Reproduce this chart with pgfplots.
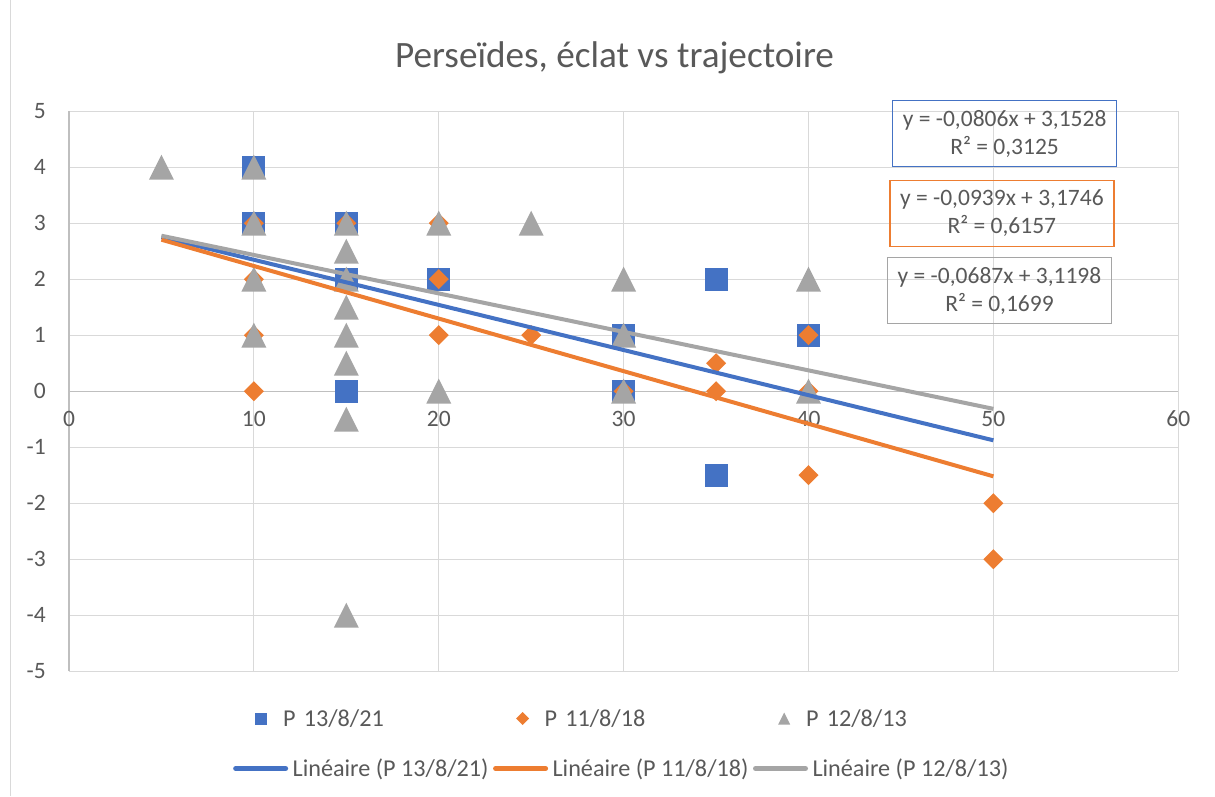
\documentclass[border=0pt]{standalone}
\usepackage{pgfplots}
\pgfplotsset{compat=1.18}
\usepackage{fontspec}
\setmainfont{Carlito}
\definecolor{xblue}{HTML}{4472C4}
\definecolor{xorange}{HTML}{ED7D31}
\definecolor{xgray}{HTML}{A5A5A5}
\definecolor{txt}{HTML}{595959}
\definecolor{gridc}{HTML}{D9D9D9}
\definecolor{axl}{HTML}{BFBFBF}
\pgfdeclareplotmark{xltri}{%
  \pgfpathmoveto{\pgfqpoint{0pt}{\pgfplotmarksize}}%
  \pgfpathlineto{\pgfqpoint{\pgfplotmarksize}{-\pgfplotmarksize}}%
  \pgfpathlineto{\pgfqpoint{-\pgfplotmarksize}{-\pgfplotmarksize}}%
  \pgfpathclose\pgfusepathqfill}
\pgfdeclareplotmark{xldia}{%
  \pgfpathmoveto{\pgfqpoint{0pt}{\pgfplotmarksize}}%
  \pgfpathlineto{\pgfqpoint{\pgfplotmarksize}{0pt}}%
  \pgfpathlineto{\pgfqpoint{0pt}{-\pgfplotmarksize}}%
  \pgfpathlineto{\pgfqpoint{-\pgfplotmarksize}{0pt}}%
  \pgfpathclose\pgfusepathqfill}
\newcommand{\fnt}{\fontsize{23.5}{28}\selectfont}
\newcommand{\lfnt}{\fontsize{24.2}{29}\selectfont}
\pgfplotsset{
  base/.style={
    at={(69pt,125.3pt)}, anchor=south west,
    width=1109.3pt, height=560pt, scale only axis,
    xmin=0, xmax=60, ymin=-5, ymax=5,
  },
  legmark/.style={legend image code/.code={\draw[##1,only marks,mark size=#1] plot coordinates {(10pt,0pt)}; \path[draw=none] (0pt,0pt) -- (20pt,0pt);}},
  legline/.style={legend image code/.code={\draw[##1, line width=5pt, line cap=round] (2.5pt,0pt) -- (52.5pt,0pt);}},
}
\begin{document}
\begin{tikzpicture}[x=1pt,y=1pt]
\path (0,0) rectangle (1215,796);
\draw[gridc, line width=1pt] (10,0) -- (10,796);
\node[font=\fontsize{37.2}{44}\selectfont, text=txt, anchor=base] at (614.5,729) {Perseïdes, éclat vs trajectoire};

\begin{axis}[base,
  axis x line=bottom, axis y line=left,
  axis line style={-, draw=axl, line width=1.3pt},
  x axis line style={draw=none},
  xtick={0,10,...,60}, ytick={-5,-4,...,5},
  extra y ticks={0}, extra y tick labels={},
  extra y tick style={grid=major, major grid style={draw=axl, line width=1.3pt}},
  major tick length=0pt,
  grid=major, major grid style={draw=gridc, line width=1pt},
  /pgf/number format/assume math mode=true,
  tick label style={font=\fnt, text=txt},
  xticklabel style={anchor=center, inner sep=0pt, yshift=252.7pt},
  yticklabel style={anchor=east, inner sep=0pt, xshift=-23pt},
  legend columns=3,
  legend style={at={(0.1641,-0.0845)}, anchor=west, draw=none, fill=none,
    inner sep=0pt, column sep=12pt,
    nodes={text width=217.5pt, inner sep=0pt, align=left, font=\lfnt, text=txt}},
]
\addplot[only marks, color=xblue, mark=square*, mark size=11pt, mark options={line width=1pt}, legmark=5.5pt]
  coordinates {(10,4) (10,3) (15,3) (15,2) (15,0) (20,2) (30,1) (30,0) (35,2) (35,-1.5) (40,1)};
\addlegendentry{P 13/8/21}
\addplot[only marks, color=xorange, mark=xldia, mark size=10pt, legmark=6.5pt]
  coordinates {(10,3) (10,2) (10,1) (10,0) (15,3) (20,3) (20,2) (20,1) (25,1) (30,0) (35,0.5) (35,0) (40,1) (40,0) (40,-1.5) (50,-2) (50,-3)};
\addlegendentry{P 11/8/18}
\addplot[only marks, color=xgray, mark=xltri, mark size=12.5pt, legmark=6pt]
  coordinates {(5,4) (10,4) (10,3) (10,2) (10,1) (15,3) (15,2.5) (15,2) (15,1.5) (15,1) (15,0.5) (15,-0.5) (15,-4) (20,3) (20,0) (25,3) (30,2) (30,1) (30,0) (40,2) (40,0)};
\addlegendentry{P 12/8/13}
\end{axis}

\begin{axis}[base, hide axis, clip=false,
  legend columns=3,
  legend style={at={(0.1478,-0.1738)}, anchor=west, draw=none, fill=none,
    inner sep=0pt, column sep=4.5pt,
    nodes={inner sep=0pt, font=\lfnt, text=txt}},
  legline,
]
\addplot[color=xblue, line width=4pt] coordinates {(5,2.7498) (50,-0.8772)};
\addlegendentry{Linéaire (P 13/8/21)}
\addplot[color=xorange, line width=4pt] coordinates {(5,2.7051) (50,-1.5204)};
\addlegendentry{Linéaire (P 11/8/18)}
\addplot[color=xgray, line width=4pt] coordinates {(5,2.7763) (50,-0.3152)};
\addlegendentry{Linéaire (P 12/8/13)}
\node[draw=xblue, line width=1.3pt, minimum width=224pt, minimum height=66pt, inner sep=0pt,
  align=center, font=\fnt, text=txt] at (axis cs:50.61,4.602) {y = -0,0806x + 3,1528\\R² = 0,3125};
\node[draw=xorange, line width=1.3pt, minimum width=224pt, minimum height=66pt, inner sep=0pt,
  align=center, font=\fnt, text=txt] at (axis cs:50.46,3.173) {y = -0,0939x + 3,1746\\R² = 0,6157};
\node[draw=xgray, line width=1.3pt, minimum width=224pt, minimum height=66pt, inner sep=0pt,
  align=center, font=\fnt, text=txt] at (axis cs:50.33,1.798) {y = -0,0687x + 3,1198\\R² = 0,1699};
\end{axis}
\end{tikzpicture}
\end{document}
